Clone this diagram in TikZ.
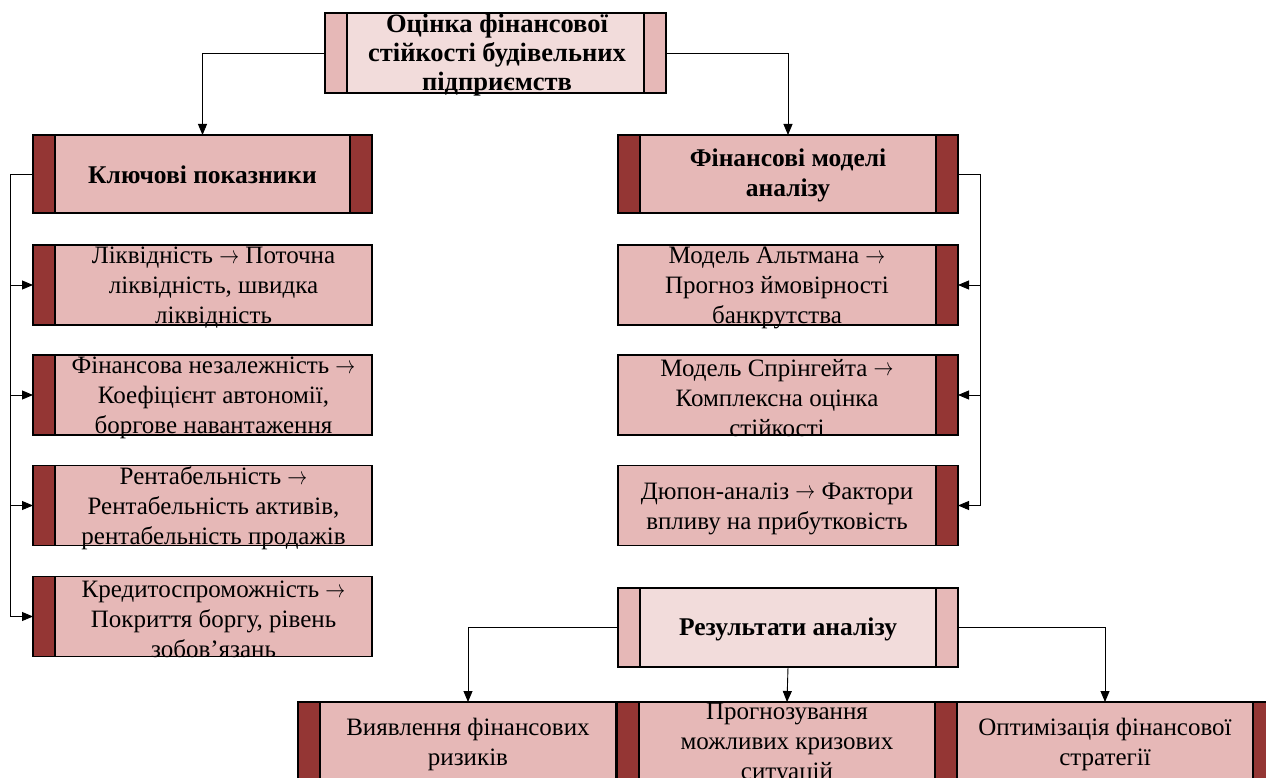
\documentclass[tikz,border=0pt]{standalone}
\usepackage{fontspec}
\usepackage{graphicx}
\setmainfont{Liberation Serif}
\usetikzlibrary{arrows.meta,calc}
\definecolor{bardark}{HTML}{943634}
\definecolor{boxfill}{HTML}{E6B8B7}
\definecolor{lightfill}{HTML}{F2DCDB}
\newcommand{\arw}{\raisebox{0.02em}{\scalebox{0.8}[1]{$\rightarrow$}}}
\tikzset{
  box/.style={draw=black, line width=1.3pt, fill=boxfill, minimum width=339pt, minimum height=79pt, inner sep=0pt, outer sep=0pt},
  lbox/.style={box, fill=lightfill},
  bar/.style={draw=black, line width=1.3pt, fill=bardark},
  lbar/.style={draw=black, line width=1.3pt, fill=boxfill},
  txt/.style={font=\fontsize{25}{30}\selectfont, align=center, inner sep=0pt},
  hd/.style={font=\fontsize{25.5}{30}\selectfont\bfseries, align=center, inner sep=0pt},
  conn/.style={line width=0.9pt, -{Triangle[length=11pt,width=9pt]}},
}
\begin{document}
\begin{tikzpicture}[x=1pt,y=-1pt]
\useasboundingbox (0,0) rectangle (1266,778);
\clip (0,0) rectangle (1266,778);
% top box
\node[lbox, minimum width=341pt, minimum height=80pt] (top) at (495.5,53) {};
\draw[lbar] (top.north west) rectangle ([xshift=22pt]top.south west);
\draw[lbar] ([xshift=-22pt]top.north east) rectangle (top.south east);
\node[hd, font=\fontsize{26.5}{29}\selectfont\bfseries] at (497,55) {Оцінка фінансової\\стійкості будівельних\\підприємств};
% key indicators
\node[box, minimum height=78pt] (k) at (202.5,174) {};
\draw[bar] (k.north west) rectangle ([xshift=22pt]k.south west);
\draw[bar] ([xshift=-22pt]k.north east) rectangle (k.south east);
\node[hd] at (202.5,175) {Ключові показники};
% financial models
\node[box, minimum width=340pt, minimum height=78pt] (f) at (788,174) {};
\draw[bar] (f.north west) rectangle ([xshift=22pt]f.south west);
\draw[bar] ([xshift=-22pt]f.north east) rectangle (f.south east);
\node[hd] at (788,175) {Фінансові моделі\\аналізу};
% left items
\foreach \n/\y/\t in {l1/285/{Ліквідність \arw{} Поточна\\ліквідність, швидка\\ліквідність},
                      l2/395/{Фінансова незалежність \arw\\Коефіцієнт автономії,\\боргове навантаження},
                      l3/505.5/{Рентабельність \arw\\Рентабельність активів,\\рентабельність продажів},
                      l4/616.5/{Кредитоспроможність \arw\\Покриття боргу, рівень\\зобов’язань}}{
  \node[box, minimum height=80pt] (\n) at (202.5,\y) {};
  \draw[bar] (\n.north west) rectangle ([xshift=22pt]\n.south west);
  \node[txt] at ($(\n.center)+(11,3)$) {\t};
}
% right items
\foreach \n/\y/\t in {r1/285/{Модель Альтмана \arw\\Прогноз ймовірності\\банкрутства},
                      r2/395/{Модель Спрінгейта \arw\\Комплексна оцінка\\стійкості},
                      r3/505.5/{Дюпон-аналіз \arw{} Фактори\\впливу на прибутковість}}{
  \node[box, minimum width=340pt, minimum height=80pt] (\n) at (788,\y) {};
  \draw[bar] ([xshift=-22pt]\n.north east) rectangle (\n.south east);
  \node[txt] at ($(\n.center)+(-11,3)$) {\t};
}
% results
\node[lbox, minimum width=340pt, minimum height=79pt] (res) at (788,627.5) {};
\draw[lbar] (res.north west) rectangle ([xshift=22pt]res.south west);
\draw[lbar] ([xshift=-22pt]res.north east) rectangle (res.south east);
\node[hd] at (788,629) {Результати аналізу};
% bottom boxes
\foreach \n/\x/\t in {b1/468/{Виявлення фінансових\\ризиків},
                      b2/787/{Прогнозування\\можливих кризових\\ситуацій},
                      b3/1105/{Оптимізація фінансової\\стратегії}}{
  \node[box, minimum width=340pt, minimum height=80pt] (\n) at (\x,742) {};
  \draw[bar] (\n.north west) rectangle ([xshift=22pt]\n.south west);
  \draw[bar] ([xshift=-22pt]\n.north east) rectangle (\n.south east);
  \node[txt] at ($(\n.center)+(0,2)$) {\t};
}
% connectors
\draw[conn] (top.west) -| (k.north);
\draw[conn] (top.east) -| (f.north);
\coordinate (kl) at ($(k.west)+(-23,0)$);
\draw[conn] (k.west) -- (kl) |- (l4.west);
\foreach \n in {l1,l2,l3}{\draw[conn] (kl |- \n.west) -- (\n.west);}
\coordinate (fr) at ($(f.east)+(22,0)$);
\draw[conn] (f.east) -- (fr) |- (r3.east);
\foreach \n in {r1,r2}{\draw[conn] (fr |- \n.east) -- (\n.east);}
\draw[conn] (res.west) -| (b1.north);
\draw[conn] (res.south) -- (b2.north);
\draw[conn] (res.east) -| (b3.north);
\end{tikzpicture}
\end{document}
